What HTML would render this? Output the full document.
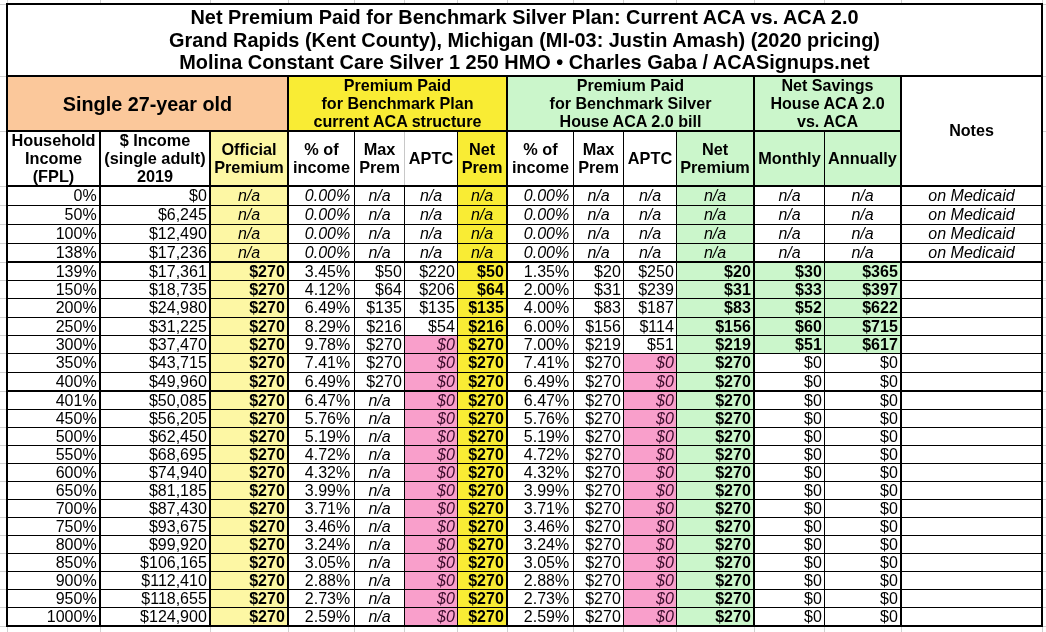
<!DOCTYPE html>
<html><head><meta charset="utf-8"><title>Net Premium Paid - Grand Rapids</title>
<style>
html,body{margin:0;padding:0;background:#fff;}
body{width:1046px;height:632px;position:relative;overflow:hidden;font-family:"Liberation Sans", sans-serif;color:#000;}
body>div{position:absolute;}
.t{white-space:nowrap;overflow:visible;-webkit-font-smoothing:antialiased;will-change:transform;}
</style></head>
<body>
<div style="left:7px;top:0px;width:1px;height:3px;background:#d0d0d0"></div>
<div style="left:7px;top:627px;width:1px;height:5px;background:#d0d0d0"></div>
<div style="left:100px;top:0px;width:1px;height:3px;background:#d0d0d0"></div>
<div style="left:100px;top:627px;width:1px;height:5px;background:#d0d0d0"></div>
<div style="left:210px;top:0px;width:1px;height:3px;background:#d0d0d0"></div>
<div style="left:210px;top:627px;width:1px;height:5px;background:#d0d0d0"></div>
<div style="left:288px;top:0px;width:1px;height:3px;background:#d0d0d0"></div>
<div style="left:288px;top:627px;width:1px;height:5px;background:#d0d0d0"></div>
<div style="left:354px;top:0px;width:1px;height:3px;background:#d0d0d0"></div>
<div style="left:354px;top:627px;width:1px;height:5px;background:#d0d0d0"></div>
<div style="left:404px;top:0px;width:1px;height:3px;background:#d0d0d0"></div>
<div style="left:404px;top:627px;width:1px;height:5px;background:#d0d0d0"></div>
<div style="left:457px;top:0px;width:1px;height:3px;background:#d0d0d0"></div>
<div style="left:457px;top:627px;width:1px;height:5px;background:#d0d0d0"></div>
<div style="left:507px;top:0px;width:1px;height:3px;background:#d0d0d0"></div>
<div style="left:507px;top:627px;width:1px;height:5px;background:#d0d0d0"></div>
<div style="left:573px;top:0px;width:1px;height:3px;background:#d0d0d0"></div>
<div style="left:573px;top:627px;width:1px;height:5px;background:#d0d0d0"></div>
<div style="left:623px;top:0px;width:1px;height:3px;background:#d0d0d0"></div>
<div style="left:623px;top:627px;width:1px;height:5px;background:#d0d0d0"></div>
<div style="left:676px;top:0px;width:1px;height:3px;background:#d0d0d0"></div>
<div style="left:676px;top:627px;width:1px;height:5px;background:#d0d0d0"></div>
<div style="left:754px;top:0px;width:1px;height:3px;background:#d0d0d0"></div>
<div style="left:754px;top:627px;width:1px;height:5px;background:#d0d0d0"></div>
<div style="left:824px;top:0px;width:1px;height:3px;background:#d0d0d0"></div>
<div style="left:824px;top:627px;width:1px;height:5px;background:#d0d0d0"></div>
<div style="left:901px;top:0px;width:1px;height:3px;background:#d0d0d0"></div>
<div style="left:901px;top:627px;width:1px;height:5px;background:#d0d0d0"></div>
<div style="left:1042px;top:0px;width:1px;height:3px;background:#d0d0d0"></div>
<div style="left:1042px;top:627px;width:1px;height:5px;background:#d0d0d0"></div>
<div style="left:0px;top:4px;width:6px;height:1px;background:#d0d0d0"></div>
<div style="left:1043px;top:4px;width:3px;height:1px;background:#d0d0d0"></div>
<div style="left:0px;top:76px;width:6px;height:1px;background:#d0d0d0"></div>
<div style="left:1043px;top:76px;width:3px;height:1px;background:#d0d0d0"></div>
<div style="left:0px;top:131px;width:6px;height:1px;background:#d0d0d0"></div>
<div style="left:1043px;top:131px;width:3px;height:1px;background:#d0d0d0"></div>
<div style="left:0px;top:186px;width:6px;height:1px;background:#d0d0d0"></div>
<div style="left:1043px;top:186px;width:3px;height:1px;background:#d0d0d0"></div>
<div style="left:0px;top:205px;width:6px;height:1px;background:#d0d0d0"></div>
<div style="left:1043px;top:205px;width:3px;height:1px;background:#d0d0d0"></div>
<div style="left:0px;top:224px;width:6px;height:1px;background:#d0d0d0"></div>
<div style="left:1043px;top:224px;width:3px;height:1px;background:#d0d0d0"></div>
<div style="left:0px;top:243px;width:6px;height:1px;background:#d0d0d0"></div>
<div style="left:1043px;top:243px;width:3px;height:1px;background:#d0d0d0"></div>
<div style="left:0px;top:262px;width:6px;height:1px;background:#d0d0d0"></div>
<div style="left:1043px;top:262px;width:3px;height:1px;background:#d0d0d0"></div>
<div style="left:0px;top:280px;width:6px;height:1px;background:#d0d0d0"></div>
<div style="left:1043px;top:280px;width:3px;height:1px;background:#d0d0d0"></div>
<div style="left:0px;top:298px;width:6px;height:1px;background:#d0d0d0"></div>
<div style="left:1043px;top:298px;width:3px;height:1px;background:#d0d0d0"></div>
<div style="left:0px;top:317px;width:6px;height:1px;background:#d0d0d0"></div>
<div style="left:1043px;top:317px;width:3px;height:1px;background:#d0d0d0"></div>
<div style="left:0px;top:335px;width:6px;height:1px;background:#d0d0d0"></div>
<div style="left:1043px;top:335px;width:3px;height:1px;background:#d0d0d0"></div>
<div style="left:0px;top:353px;width:6px;height:1px;background:#d0d0d0"></div>
<div style="left:1043px;top:353px;width:3px;height:1px;background:#d0d0d0"></div>
<div style="left:0px;top:372px;width:6px;height:1px;background:#d0d0d0"></div>
<div style="left:1043px;top:372px;width:3px;height:1px;background:#d0d0d0"></div>
<div style="left:0px;top:391px;width:6px;height:1px;background:#d0d0d0"></div>
<div style="left:1043px;top:391px;width:3px;height:1px;background:#d0d0d0"></div>
<div style="left:0px;top:409px;width:6px;height:1px;background:#d0d0d0"></div>
<div style="left:1043px;top:409px;width:3px;height:1px;background:#d0d0d0"></div>
<div style="left:0px;top:427px;width:6px;height:1px;background:#d0d0d0"></div>
<div style="left:1043px;top:427px;width:3px;height:1px;background:#d0d0d0"></div>
<div style="left:0px;top:445px;width:6px;height:1px;background:#d0d0d0"></div>
<div style="left:1043px;top:445px;width:3px;height:1px;background:#d0d0d0"></div>
<div style="left:0px;top:463px;width:6px;height:1px;background:#d0d0d0"></div>
<div style="left:1043px;top:463px;width:3px;height:1px;background:#d0d0d0"></div>
<div style="left:0px;top:481px;width:6px;height:1px;background:#d0d0d0"></div>
<div style="left:1043px;top:481px;width:3px;height:1px;background:#d0d0d0"></div>
<div style="left:0px;top:499px;width:6px;height:1px;background:#d0d0d0"></div>
<div style="left:1043px;top:499px;width:3px;height:1px;background:#d0d0d0"></div>
<div style="left:0px;top:517px;width:6px;height:1px;background:#d0d0d0"></div>
<div style="left:1043px;top:517px;width:3px;height:1px;background:#d0d0d0"></div>
<div style="left:0px;top:535px;width:6px;height:1px;background:#d0d0d0"></div>
<div style="left:1043px;top:535px;width:3px;height:1px;background:#d0d0d0"></div>
<div style="left:0px;top:553px;width:6px;height:1px;background:#d0d0d0"></div>
<div style="left:1043px;top:553px;width:3px;height:1px;background:#d0d0d0"></div>
<div style="left:0px;top:571px;width:6px;height:1px;background:#d0d0d0"></div>
<div style="left:1043px;top:571px;width:3px;height:1px;background:#d0d0d0"></div>
<div style="left:0px;top:589px;width:6px;height:1px;background:#d0d0d0"></div>
<div style="left:1043px;top:589px;width:3px;height:1px;background:#d0d0d0"></div>
<div style="left:0px;top:607px;width:6px;height:1px;background:#d0d0d0"></div>
<div style="left:1043px;top:607px;width:3px;height:1px;background:#d0d0d0"></div>
<div style="left:0px;top:626px;width:6px;height:1px;background:#d0d0d0"></div>
<div style="left:1043px;top:626px;width:3px;height:1px;background:#d0d0d0"></div>
<div style="left:8px;top:77px;width:279px;height:53px;background:#fbc89b"></div>
<div style="left:289px;top:77px;width:217px;height:53px;background:#f9ec34"></div>
<div style="left:508px;top:77px;width:245px;height:53px;background:#cbf6cb"></div>
<div style="left:755px;top:77px;width:145px;height:53px;background:#cbf6cb"></div>
<div style="left:211px;top:132px;width:76px;height:53px;background:#fdf7a4"></div>
<div style="left:458px;top:132px;width:48px;height:53px;background:#f9ec34"></div>
<div style="left:677px;top:132px;width:76px;height:53px;background:#cbf6cb"></div>
<div style="left:755px;top:132px;width:69px;height:53px;background:#cbf6cb"></div>
<div style="left:825px;top:132px;width:75px;height:53px;background:#cbf6cb"></div>
<div style="left:211px;top:187px;width:76px;height:438px;background:#fdf7a4"></div>
<div style="left:458px;top:187px;width:48px;height:438px;background:#f9ec34"></div>
<div style="left:677px;top:187px;width:76px;height:438px;background:#cbf6cb"></div>
<div style="left:755px;top:263px;width:145px;height:90px;background:#cbf6cb"></div>
<div style="left:405px;top:336px;width:52px;height:289px;background:#f99fcb"></div>
<div style="left:624px;top:354px;width:52px;height:271px;background:#f99fcb"></div>
<div style="left:6px;top:3px;width:1037px;height:2px;background:#000"></div>
<div style="left:6px;top:3px;width:2px;height:624px;background:#000"></div>
<div style="left:1041px;top:3px;width:2px;height:624px;background:#000"></div>
<div style="left:6px;top:625px;width:1037px;height:2px;background:#000"></div>
<div style="left:6px;top:75px;width:1037px;height:2px;background:#000"></div>
<div style="left:6px;top:130px;width:896px;height:2px;background:#000"></div>
<div style="left:6px;top:185px;width:1037px;height:2px;background:#000"></div>
<div style="left:287px;top:77px;width:2px;height:53px;background:#000"></div>
<div style="left:506px;top:77px;width:2px;height:53px;background:#000"></div>
<div style="left:753px;top:77px;width:2px;height:53px;background:#000"></div>
<div style="left:900px;top:77px;width:2px;height:53px;background:#000"></div>
<div style="left:99px;top:132px;width:2px;height:53px;background:#000"></div>
<div style="left:99px;top:187px;width:2px;height:438px;background:#000"></div>
<div style="left:209px;top:132px;width:2px;height:53px;background:#000"></div>
<div style="left:209px;top:187px;width:2px;height:438px;background:#000"></div>
<div style="left:287px;top:132px;width:2px;height:53px;background:#000"></div>
<div style="left:287px;top:187px;width:2px;height:438px;background:#000"></div>
<div style="left:354px;top:132px;width:1px;height:53px;background:#000"></div>
<div style="left:354px;top:187px;width:1px;height:438px;background:#000"></div>
<div style="left:404px;top:132px;width:1px;height:53px;background:#c8c8c8"></div>
<div style="left:404px;top:187px;width:1px;height:438px;background:#000"></div>
<div style="left:457px;top:132px;width:1px;height:53px;background:#000"></div>
<div style="left:457px;top:187px;width:1px;height:438px;background:#000"></div>
<div style="left:506px;top:132px;width:2px;height:53px;background:#000"></div>
<div style="left:506px;top:187px;width:2px;height:438px;background:#000"></div>
<div style="left:573px;top:132px;width:1px;height:53px;background:#000"></div>
<div style="left:573px;top:187px;width:1px;height:438px;background:#000"></div>
<div style="left:623px;top:132px;width:1px;height:53px;background:#000"></div>
<div style="left:623px;top:187px;width:1px;height:438px;background:#000"></div>
<div style="left:676px;top:132px;width:1px;height:53px;background:#000"></div>
<div style="left:676px;top:187px;width:1px;height:438px;background:#000"></div>
<div style="left:753px;top:132px;width:2px;height:53px;background:#000"></div>
<div style="left:753px;top:187px;width:2px;height:438px;background:#000"></div>
<div style="left:824px;top:132px;width:1px;height:53px;background:#000"></div>
<div style="left:824px;top:187px;width:1px;height:438px;background:#000"></div>
<div style="left:900px;top:132px;width:2px;height:53px;background:#000"></div>
<div style="left:900px;top:187px;width:2px;height:438px;background:#000"></div>
<div style="left:6px;top:205px;width:1037px;height:1px;background:#000"></div>
<div style="left:6px;top:224px;width:1037px;height:1px;background:#000"></div>
<div style="left:6px;top:243px;width:1037px;height:1px;background:#000"></div>
<div style="left:6px;top:261px;width:1037px;height:2px;background:#000"></div>
<div style="left:6px;top:280px;width:1037px;height:1px;background:#000"></div>
<div style="left:6px;top:298px;width:1037px;height:1px;background:#000"></div>
<div style="left:6px;top:317px;width:1037px;height:1px;background:#000"></div>
<div style="left:6px;top:335px;width:1037px;height:1px;background:#000"></div>
<div style="left:6px;top:353px;width:1037px;height:1px;background:#000"></div>
<div style="left:6px;top:372px;width:1037px;height:1px;background:#000"></div>
<div style="left:6px;top:390px;width:1037px;height:2px;background:#000"></div>
<div style="left:6px;top:409px;width:1037px;height:1px;background:#000"></div>
<div style="left:6px;top:427px;width:1037px;height:1px;background:#000"></div>
<div style="left:6px;top:445px;width:1037px;height:1px;background:#000"></div>
<div style="left:6px;top:463px;width:1037px;height:1px;background:#000"></div>
<div style="left:6px;top:481px;width:1037px;height:1px;background:#000"></div>
<div style="left:6px;top:499px;width:1037px;height:1px;background:#000"></div>
<div style="left:6px;top:517px;width:1037px;height:1px;background:#000"></div>
<div style="left:6px;top:535px;width:1037px;height:1px;background:#000"></div>
<div style="left:6px;top:553px;width:1037px;height:1px;background:#000"></div>
<div style="left:6px;top:571px;width:1037px;height:1px;background:#000"></div>
<div style="left:6px;top:589px;width:1037px;height:1px;background:#000"></div>
<div style="left:6px;top:607px;width:1037px;height:1px;background:#000"></div>
<div class="t" style="left:6px;top:5.5px;width:1037px;font-size:19.9px;line-height:22.9px;font-weight:bold;text-align:center">Net Premium Paid for Benchmark Silver Plan: Current ACA vs. ACA 2.0</div>
<div class="t" style="left:6px;top:29.0px;width:1037px;font-size:19.9px;line-height:22.9px;font-weight:bold;text-align:center">Grand Rapids (Kent County), Michigan (MI-03: Justin Amash) (2020 pricing)</div>
<div class="t" style="left:6px;top:51.4px;width:1037px;font-size:19.9px;line-height:22.9px;font-weight:bold;text-align:center">Molina Constant Care Silver 1 250 HMO &bull; Charles Gaba / ACASignups.net</div>
<div class="t" style="left:8px;top:77.6px;width:279px;height:53.0px;font-size:19.8px;text-align:center;color:#000;line-height:53.0px;font-weight:bold">Single 27-year old</div>
<div class="t" style="left:289px;top:76.7px;width:217px;font-size:16.1px;line-height:17.9px;font-weight:bold;text-align:center">Premium Paid<br>for Benchmark Plan<br>current ACA structure</div>
<div class="t" style="left:508px;top:76.7px;width:245px;font-size:16.1px;line-height:17.9px;font-weight:bold;text-align:center">Premium Paid<br>for Benchmark Silver<br>House ACA 2.0 bill</div>
<div class="t" style="left:755px;top:76.7px;width:145px;font-size:16.1px;line-height:17.9px;font-weight:bold;text-align:center">Net Savings<br>House ACA 2.0<br>vs. ACA</div>
<div class="t" style="left:902px;top:122.0px;width:139px;font-size:16.1px;line-height:17.9px;font-weight:bold;text-align:center">Notes</div>
<div class="t" style="left:8px;top:132.3px;width:91px;font-size:16.3px;line-height:17.9px;font-weight:bold;text-align:center">Household<br>Income<br>(FPL)</div>
<div class="t" style="left:101px;top:132.3px;width:108px;font-size:16.3px;line-height:17.9px;font-weight:bold;text-align:center">$ Income<br>(single adult)<br>2019</div>
<div class="t" style="left:211px;top:141.3px;width:76px;font-size:16.3px;line-height:17.9px;font-weight:bold;text-align:center">Official<br>Premium</div>
<div class="t" style="left:289px;top:141.3px;width:65px;font-size:16.3px;line-height:17.9px;font-weight:bold;text-align:center">% of<br>income</div>
<div class="t" style="left:355px;top:141.3px;width:49px;font-size:16.3px;line-height:17.9px;font-weight:bold;text-align:center">Max<br>Prem</div>
<div class="t" style="left:405px;top:150.2px;width:52px;font-size:16.3px;line-height:17.9px;font-weight:bold;text-align:center">APTC</div>
<div class="t" style="left:458px;top:141.3px;width:48px;font-size:16.3px;line-height:17.9px;font-weight:bold;text-align:center">Net<br>Prem</div>
<div class="t" style="left:508px;top:141.3px;width:65px;font-size:16.3px;line-height:17.9px;font-weight:bold;text-align:center">% of<br>income</div>
<div class="t" style="left:574px;top:141.3px;width:49px;font-size:16.3px;line-height:17.9px;font-weight:bold;text-align:center">Max<br>Prem</div>
<div class="t" style="left:624px;top:150.2px;width:52px;font-size:16.3px;line-height:17.9px;font-weight:bold;text-align:center">APTC</div>
<div class="t" style="left:677px;top:141.3px;width:76px;font-size:16.3px;line-height:17.9px;font-weight:bold;text-align:center">Net<br>Premium</div>
<div class="t" style="left:755px;top:150.2px;width:69px;font-size:16.3px;line-height:17.9px;font-weight:bold;text-align:center">Monthly</div>
<div class="t" style="left:825px;top:150.2px;width:75px;font-size:16.3px;line-height:17.9px;font-weight:bold;text-align:center">Annually</div>
<div class="t" style="left:8px;top:187px;width:91px;height:18px;font-size:16px;text-align:right;color:#000;line-height:18px;padding-right:2.4px;box-sizing:border-box">0%</div>
<div class="t" style="left:101px;top:187px;width:108px;height:18px;font-size:16px;text-align:right;color:#000;line-height:18px;padding-right:2.2px;box-sizing:border-box">$0</div>
<div class="t" style="left:211px;top:187px;width:76px;height:18px;font-size:16px;text-align:center;color:#000;line-height:18px;font-style:italic">n/a</div>
<div class="t" style="left:289px;top:187px;width:65px;height:18px;font-size:16px;text-align:right;color:#000;line-height:18px;font-style:italic;padding-right:3.8px;box-sizing:border-box">0.00%</div>
<div class="t" style="left:355px;top:187px;width:49px;height:18px;font-size:16px;text-align:center;color:#000;line-height:18px;font-style:italic">n/a</div>
<div class="t" style="left:405px;top:187px;width:52px;height:18px;font-size:16px;text-align:center;color:#000;line-height:18px;font-style:italic">n/a</div>
<div class="t" style="left:458px;top:187px;width:48px;height:18px;font-size:16px;text-align:center;color:#000;line-height:18px;font-style:italic">n/a</div>
<div class="t" style="left:508px;top:187px;width:65px;height:18px;font-size:16px;text-align:right;color:#000;line-height:18px;font-style:italic;padding-right:3.8px;box-sizing:border-box">0.00%</div>
<div class="t" style="left:574px;top:187px;width:49px;height:18px;font-size:16px;text-align:center;color:#000;line-height:18px;font-style:italic">n/a</div>
<div class="t" style="left:624px;top:187px;width:52px;height:18px;font-size:16px;text-align:center;color:#000;line-height:18px;font-style:italic">n/a</div>
<div class="t" style="left:677px;top:187px;width:76px;height:18px;font-size:16px;text-align:center;color:#000;line-height:18px;font-style:italic">n/a</div>
<div class="t" style="left:755px;top:187px;width:69px;height:18px;font-size:16px;text-align:center;color:#000;line-height:18px;font-style:italic">n/a</div>
<div class="t" style="left:825px;top:187px;width:75px;height:18px;font-size:16px;text-align:center;color:#000;line-height:18px;font-style:italic">n/a</div>
<div class="t" style="left:902px;top:187px;width:139px;height:18px;font-size:16px;text-align:center;color:#000;line-height:18px;font-style:italic">on Medicaid</div>
<div class="t" style="left:8px;top:206px;width:91px;height:18px;font-size:16px;text-align:right;color:#000;line-height:18px;padding-right:2.4px;box-sizing:border-box">50%</div>
<div class="t" style="left:101px;top:206px;width:108px;height:18px;font-size:16px;text-align:right;color:#000;line-height:18px;padding-right:2.2px;box-sizing:border-box">$6,245</div>
<div class="t" style="left:211px;top:206px;width:76px;height:18px;font-size:16px;text-align:center;color:#000;line-height:18px;font-style:italic">n/a</div>
<div class="t" style="left:289px;top:206px;width:65px;height:18px;font-size:16px;text-align:right;color:#000;line-height:18px;font-style:italic;padding-right:3.8px;box-sizing:border-box">0.00%</div>
<div class="t" style="left:355px;top:206px;width:49px;height:18px;font-size:16px;text-align:center;color:#000;line-height:18px;font-style:italic">n/a</div>
<div class="t" style="left:405px;top:206px;width:52px;height:18px;font-size:16px;text-align:center;color:#000;line-height:18px;font-style:italic">n/a</div>
<div class="t" style="left:458px;top:206px;width:48px;height:18px;font-size:16px;text-align:center;color:#000;line-height:18px;font-style:italic">n/a</div>
<div class="t" style="left:508px;top:206px;width:65px;height:18px;font-size:16px;text-align:right;color:#000;line-height:18px;font-style:italic;padding-right:3.8px;box-sizing:border-box">0.00%</div>
<div class="t" style="left:574px;top:206px;width:49px;height:18px;font-size:16px;text-align:center;color:#000;line-height:18px;font-style:italic">n/a</div>
<div class="t" style="left:624px;top:206px;width:52px;height:18px;font-size:16px;text-align:center;color:#000;line-height:18px;font-style:italic">n/a</div>
<div class="t" style="left:677px;top:206px;width:76px;height:18px;font-size:16px;text-align:center;color:#000;line-height:18px;font-style:italic">n/a</div>
<div class="t" style="left:755px;top:206px;width:69px;height:18px;font-size:16px;text-align:center;color:#000;line-height:18px;font-style:italic">n/a</div>
<div class="t" style="left:825px;top:206px;width:75px;height:18px;font-size:16px;text-align:center;color:#000;line-height:18px;font-style:italic">n/a</div>
<div class="t" style="left:902px;top:206px;width:139px;height:18px;font-size:16px;text-align:center;color:#000;line-height:18px;font-style:italic">on Medicaid</div>
<div class="t" style="left:8px;top:225px;width:91px;height:18px;font-size:16px;text-align:right;color:#000;line-height:18px;padding-right:2.4px;box-sizing:border-box">100%</div>
<div class="t" style="left:101px;top:225px;width:108px;height:18px;font-size:16px;text-align:right;color:#000;line-height:18px;padding-right:2.2px;box-sizing:border-box">$12,490</div>
<div class="t" style="left:211px;top:225px;width:76px;height:18px;font-size:16px;text-align:center;color:#000;line-height:18px;font-style:italic">n/a</div>
<div class="t" style="left:289px;top:225px;width:65px;height:18px;font-size:16px;text-align:right;color:#000;line-height:18px;font-style:italic;padding-right:3.8px;box-sizing:border-box">0.00%</div>
<div class="t" style="left:355px;top:225px;width:49px;height:18px;font-size:16px;text-align:center;color:#000;line-height:18px;font-style:italic">n/a</div>
<div class="t" style="left:405px;top:225px;width:52px;height:18px;font-size:16px;text-align:center;color:#000;line-height:18px;font-style:italic">n/a</div>
<div class="t" style="left:458px;top:225px;width:48px;height:18px;font-size:16px;text-align:center;color:#000;line-height:18px;font-style:italic">n/a</div>
<div class="t" style="left:508px;top:225px;width:65px;height:18px;font-size:16px;text-align:right;color:#000;line-height:18px;font-style:italic;padding-right:3.8px;box-sizing:border-box">0.00%</div>
<div class="t" style="left:574px;top:225px;width:49px;height:18px;font-size:16px;text-align:center;color:#000;line-height:18px;font-style:italic">n/a</div>
<div class="t" style="left:624px;top:225px;width:52px;height:18px;font-size:16px;text-align:center;color:#000;line-height:18px;font-style:italic">n/a</div>
<div class="t" style="left:677px;top:225px;width:76px;height:18px;font-size:16px;text-align:center;color:#000;line-height:18px;font-style:italic">n/a</div>
<div class="t" style="left:755px;top:225px;width:69px;height:18px;font-size:16px;text-align:center;color:#000;line-height:18px;font-style:italic">n/a</div>
<div class="t" style="left:825px;top:225px;width:75px;height:18px;font-size:16px;text-align:center;color:#000;line-height:18px;font-style:italic">n/a</div>
<div class="t" style="left:902px;top:225px;width:139px;height:18px;font-size:16px;text-align:center;color:#000;line-height:18px;font-style:italic">on Medicaid</div>
<div class="t" style="left:8px;top:244px;width:91px;height:17px;font-size:16px;text-align:right;color:#000;line-height:17px;padding-right:2.4px;box-sizing:border-box">138%</div>
<div class="t" style="left:101px;top:244px;width:108px;height:17px;font-size:16px;text-align:right;color:#000;line-height:17px;padding-right:2.2px;box-sizing:border-box">$17,236</div>
<div class="t" style="left:211px;top:244px;width:76px;height:17px;font-size:16px;text-align:center;color:#000;line-height:17px;font-style:italic">n/a</div>
<div class="t" style="left:289px;top:244px;width:65px;height:17px;font-size:16px;text-align:right;color:#000;line-height:17px;font-style:italic;padding-right:3.8px;box-sizing:border-box">0.00%</div>
<div class="t" style="left:355px;top:244px;width:49px;height:17px;font-size:16px;text-align:center;color:#000;line-height:17px;font-style:italic">n/a</div>
<div class="t" style="left:405px;top:244px;width:52px;height:17px;font-size:16px;text-align:center;color:#000;line-height:17px;font-style:italic">n/a</div>
<div class="t" style="left:458px;top:244px;width:48px;height:17px;font-size:16px;text-align:center;color:#000;line-height:17px;font-style:italic">n/a</div>
<div class="t" style="left:508px;top:244px;width:65px;height:17px;font-size:16px;text-align:right;color:#000;line-height:17px;font-style:italic;padding-right:3.8px;box-sizing:border-box">0.00%</div>
<div class="t" style="left:574px;top:244px;width:49px;height:17px;font-size:16px;text-align:center;color:#000;line-height:17px;font-style:italic">n/a</div>
<div class="t" style="left:624px;top:244px;width:52px;height:17px;font-size:16px;text-align:center;color:#000;line-height:17px;font-style:italic">n/a</div>
<div class="t" style="left:677px;top:244px;width:76px;height:17px;font-size:16px;text-align:center;color:#000;line-height:17px;font-style:italic">n/a</div>
<div class="t" style="left:755px;top:244px;width:69px;height:17px;font-size:16px;text-align:center;color:#000;line-height:17px;font-style:italic">n/a</div>
<div class="t" style="left:825px;top:244px;width:75px;height:17px;font-size:16px;text-align:center;color:#000;line-height:17px;font-style:italic">n/a</div>
<div class="t" style="left:902px;top:244px;width:139px;height:17px;font-size:16px;text-align:center;color:#000;line-height:17px;font-style:italic">on Medicaid</div>
<div class="t" style="left:8px;top:263px;width:91px;height:17px;font-size:16px;text-align:right;color:#000;line-height:17px;padding-right:2.4px;box-sizing:border-box">139%</div>
<div class="t" style="left:101px;top:263px;width:108px;height:17px;font-size:16px;text-align:right;color:#000;line-height:17px;padding-right:2.2px;box-sizing:border-box">$17,361</div>
<div class="t" style="left:211px;top:263px;width:76px;height:17px;font-size:16px;text-align:right;color:#000;line-height:17px;font-weight:bold;padding-right:2.2px;box-sizing:border-box">$270</div>
<div class="t" style="left:289px;top:263px;width:65px;height:17px;font-size:16px;text-align:right;color:#000;line-height:17px;padding-right:3.8px;box-sizing:border-box">3.45%</div>
<div class="t" style="left:355px;top:263px;width:49px;height:17px;font-size:16px;text-align:right;color:#000;line-height:17px;padding-right:2.2px;box-sizing:border-box">$50</div>
<div class="t" style="left:405px;top:263px;width:52px;height:17px;font-size:16px;text-align:right;color:#000;line-height:17px;padding-right:2.2px;box-sizing:border-box">$220</div>
<div class="t" style="left:458px;top:263px;width:48px;height:17px;font-size:16px;text-align:right;color:#000;line-height:17px;font-weight:bold;padding-right:2.2px;box-sizing:border-box">$50</div>
<div class="t" style="left:508px;top:263px;width:65px;height:17px;font-size:16px;text-align:right;color:#000;line-height:17px;padding-right:3.8px;box-sizing:border-box">1.35%</div>
<div class="t" style="left:574px;top:263px;width:49px;height:17px;font-size:16px;text-align:right;color:#000;line-height:17px;padding-right:2.2px;box-sizing:border-box">$20</div>
<div class="t" style="left:624px;top:263px;width:52px;height:17px;font-size:16px;text-align:right;color:#000;line-height:17px;padding-right:2.2px;box-sizing:border-box">$250</div>
<div class="t" style="left:677px;top:263px;width:76px;height:17px;font-size:16px;text-align:right;color:#000;line-height:17px;font-weight:bold;padding-right:2.2px;box-sizing:border-box">$20</div>
<div class="t" style="left:755px;top:263px;width:69px;height:17px;font-size:16px;text-align:right;color:#000;line-height:17px;font-weight:bold;padding-right:2.2px;box-sizing:border-box">$30</div>
<div class="t" style="left:825px;top:263px;width:75px;height:17px;font-size:16px;text-align:right;color:#000;line-height:17px;font-weight:bold;padding-right:2.2px;box-sizing:border-box">$365</div>
<div class="t" style="left:8px;top:281px;width:91px;height:17px;font-size:16px;text-align:right;color:#000;line-height:17px;padding-right:2.4px;box-sizing:border-box">150%</div>
<div class="t" style="left:101px;top:281px;width:108px;height:17px;font-size:16px;text-align:right;color:#000;line-height:17px;padding-right:2.2px;box-sizing:border-box">$18,735</div>
<div class="t" style="left:211px;top:281px;width:76px;height:17px;font-size:16px;text-align:right;color:#000;line-height:17px;font-weight:bold;padding-right:2.2px;box-sizing:border-box">$270</div>
<div class="t" style="left:289px;top:281px;width:65px;height:17px;font-size:16px;text-align:right;color:#000;line-height:17px;padding-right:3.8px;box-sizing:border-box">4.12%</div>
<div class="t" style="left:355px;top:281px;width:49px;height:17px;font-size:16px;text-align:right;color:#000;line-height:17px;padding-right:2.2px;box-sizing:border-box">$64</div>
<div class="t" style="left:405px;top:281px;width:52px;height:17px;font-size:16px;text-align:right;color:#000;line-height:17px;padding-right:2.2px;box-sizing:border-box">$206</div>
<div class="t" style="left:458px;top:281px;width:48px;height:17px;font-size:16px;text-align:right;color:#000;line-height:17px;font-weight:bold;padding-right:2.2px;box-sizing:border-box">$64</div>
<div class="t" style="left:508px;top:281px;width:65px;height:17px;font-size:16px;text-align:right;color:#000;line-height:17px;padding-right:3.8px;box-sizing:border-box">2.00%</div>
<div class="t" style="left:574px;top:281px;width:49px;height:17px;font-size:16px;text-align:right;color:#000;line-height:17px;padding-right:2.2px;box-sizing:border-box">$31</div>
<div class="t" style="left:624px;top:281px;width:52px;height:17px;font-size:16px;text-align:right;color:#000;line-height:17px;padding-right:2.2px;box-sizing:border-box">$239</div>
<div class="t" style="left:677px;top:281px;width:76px;height:17px;font-size:16px;text-align:right;color:#000;line-height:17px;font-weight:bold;padding-right:2.2px;box-sizing:border-box">$31</div>
<div class="t" style="left:755px;top:281px;width:69px;height:17px;font-size:16px;text-align:right;color:#000;line-height:17px;font-weight:bold;padding-right:2.2px;box-sizing:border-box">$33</div>
<div class="t" style="left:825px;top:281px;width:75px;height:17px;font-size:16px;text-align:right;color:#000;line-height:17px;font-weight:bold;padding-right:2.2px;box-sizing:border-box">$397</div>
<div class="t" style="left:8px;top:299px;width:91px;height:18px;font-size:16px;text-align:right;color:#000;line-height:18px;padding-right:2.4px;box-sizing:border-box">200%</div>
<div class="t" style="left:101px;top:299px;width:108px;height:18px;font-size:16px;text-align:right;color:#000;line-height:18px;padding-right:2.2px;box-sizing:border-box">$24,980</div>
<div class="t" style="left:211px;top:299px;width:76px;height:18px;font-size:16px;text-align:right;color:#000;line-height:18px;font-weight:bold;padding-right:2.2px;box-sizing:border-box">$270</div>
<div class="t" style="left:289px;top:299px;width:65px;height:18px;font-size:16px;text-align:right;color:#000;line-height:18px;padding-right:3.8px;box-sizing:border-box">6.49%</div>
<div class="t" style="left:355px;top:299px;width:49px;height:18px;font-size:16px;text-align:right;color:#000;line-height:18px;padding-right:2.2px;box-sizing:border-box">$135</div>
<div class="t" style="left:405px;top:299px;width:52px;height:18px;font-size:16px;text-align:right;color:#000;line-height:18px;padding-right:2.2px;box-sizing:border-box">$135</div>
<div class="t" style="left:458px;top:299px;width:48px;height:18px;font-size:16px;text-align:right;color:#000;line-height:18px;font-weight:bold;padding-right:2.2px;box-sizing:border-box">$135</div>
<div class="t" style="left:508px;top:299px;width:65px;height:18px;font-size:16px;text-align:right;color:#000;line-height:18px;padding-right:3.8px;box-sizing:border-box">4.00%</div>
<div class="t" style="left:574px;top:299px;width:49px;height:18px;font-size:16px;text-align:right;color:#000;line-height:18px;padding-right:2.2px;box-sizing:border-box">$83</div>
<div class="t" style="left:624px;top:299px;width:52px;height:18px;font-size:16px;text-align:right;color:#000;line-height:18px;padding-right:2.2px;box-sizing:border-box">$187</div>
<div class="t" style="left:677px;top:299px;width:76px;height:18px;font-size:16px;text-align:right;color:#000;line-height:18px;font-weight:bold;padding-right:2.2px;box-sizing:border-box">$83</div>
<div class="t" style="left:755px;top:299px;width:69px;height:18px;font-size:16px;text-align:right;color:#000;line-height:18px;font-weight:bold;padding-right:2.2px;box-sizing:border-box">$52</div>
<div class="t" style="left:825px;top:299px;width:75px;height:18px;font-size:16px;text-align:right;color:#000;line-height:18px;font-weight:bold;padding-right:2.2px;box-sizing:border-box">$622</div>
<div class="t" style="left:8px;top:318px;width:91px;height:17px;font-size:16px;text-align:right;color:#000;line-height:17px;padding-right:2.4px;box-sizing:border-box">250%</div>
<div class="t" style="left:101px;top:318px;width:108px;height:17px;font-size:16px;text-align:right;color:#000;line-height:17px;padding-right:2.2px;box-sizing:border-box">$31,225</div>
<div class="t" style="left:211px;top:318px;width:76px;height:17px;font-size:16px;text-align:right;color:#000;line-height:17px;font-weight:bold;padding-right:2.2px;box-sizing:border-box">$270</div>
<div class="t" style="left:289px;top:318px;width:65px;height:17px;font-size:16px;text-align:right;color:#000;line-height:17px;padding-right:3.8px;box-sizing:border-box">8.29%</div>
<div class="t" style="left:355px;top:318px;width:49px;height:17px;font-size:16px;text-align:right;color:#000;line-height:17px;padding-right:2.2px;box-sizing:border-box">$216</div>
<div class="t" style="left:405px;top:318px;width:52px;height:17px;font-size:16px;text-align:right;color:#000;line-height:17px;padding-right:2.2px;box-sizing:border-box">$54</div>
<div class="t" style="left:458px;top:318px;width:48px;height:17px;font-size:16px;text-align:right;color:#000;line-height:17px;font-weight:bold;padding-right:2.2px;box-sizing:border-box">$216</div>
<div class="t" style="left:508px;top:318px;width:65px;height:17px;font-size:16px;text-align:right;color:#000;line-height:17px;padding-right:3.8px;box-sizing:border-box">6.00%</div>
<div class="t" style="left:574px;top:318px;width:49px;height:17px;font-size:16px;text-align:right;color:#000;line-height:17px;padding-right:2.2px;box-sizing:border-box">$156</div>
<div class="t" style="left:624px;top:318px;width:52px;height:17px;font-size:16px;text-align:right;color:#000;line-height:17px;padding-right:2.2px;box-sizing:border-box">$114</div>
<div class="t" style="left:677px;top:318px;width:76px;height:17px;font-size:16px;text-align:right;color:#000;line-height:17px;font-weight:bold;padding-right:2.2px;box-sizing:border-box">$156</div>
<div class="t" style="left:755px;top:318px;width:69px;height:17px;font-size:16px;text-align:right;color:#000;line-height:17px;font-weight:bold;padding-right:2.2px;box-sizing:border-box">$60</div>
<div class="t" style="left:825px;top:318px;width:75px;height:17px;font-size:16px;text-align:right;color:#000;line-height:17px;font-weight:bold;padding-right:2.2px;box-sizing:border-box">$715</div>
<div class="t" style="left:8px;top:336px;width:91px;height:17px;font-size:16px;text-align:right;color:#000;line-height:17px;padding-right:2.4px;box-sizing:border-box">300%</div>
<div class="t" style="left:101px;top:336px;width:108px;height:17px;font-size:16px;text-align:right;color:#000;line-height:17px;padding-right:2.2px;box-sizing:border-box">$37,470</div>
<div class="t" style="left:211px;top:336px;width:76px;height:17px;font-size:16px;text-align:right;color:#000;line-height:17px;font-weight:bold;padding-right:2.2px;box-sizing:border-box">$270</div>
<div class="t" style="left:289px;top:336px;width:65px;height:17px;font-size:16px;text-align:right;color:#000;line-height:17px;padding-right:3.8px;box-sizing:border-box">9.78%</div>
<div class="t" style="left:355px;top:336px;width:49px;height:17px;font-size:16px;text-align:right;color:#000;line-height:17px;padding-right:2.2px;box-sizing:border-box">$270</div>
<div class="t" style="left:405px;top:336px;width:52px;height:17px;font-size:16px;text-align:right;color:#3a0a2a;line-height:17px;font-style:italic;padding-right:2.2px;box-sizing:border-box">$0</div>
<div class="t" style="left:458px;top:336px;width:48px;height:17px;font-size:16px;text-align:right;color:#000;line-height:17px;font-weight:bold;padding-right:2.2px;box-sizing:border-box">$270</div>
<div class="t" style="left:508px;top:336px;width:65px;height:17px;font-size:16px;text-align:right;color:#000;line-height:17px;padding-right:3.8px;box-sizing:border-box">7.00%</div>
<div class="t" style="left:574px;top:336px;width:49px;height:17px;font-size:16px;text-align:right;color:#000;line-height:17px;padding-right:2.2px;box-sizing:border-box">$219</div>
<div class="t" style="left:624px;top:336px;width:52px;height:17px;font-size:16px;text-align:right;color:#000;line-height:17px;padding-right:2.2px;box-sizing:border-box">$51</div>
<div class="t" style="left:677px;top:336px;width:76px;height:17px;font-size:16px;text-align:right;color:#000;line-height:17px;font-weight:bold;padding-right:2.2px;box-sizing:border-box">$219</div>
<div class="t" style="left:755px;top:336px;width:69px;height:17px;font-size:16px;text-align:right;color:#000;line-height:17px;font-weight:bold;padding-right:2.2px;box-sizing:border-box">$51</div>
<div class="t" style="left:825px;top:336px;width:75px;height:17px;font-size:16px;text-align:right;color:#000;line-height:17px;font-weight:bold;padding-right:2.2px;box-sizing:border-box">$617</div>
<div class="t" style="left:8px;top:354px;width:91px;height:18px;font-size:16px;text-align:right;color:#000;line-height:18px;padding-right:2.4px;box-sizing:border-box">350%</div>
<div class="t" style="left:101px;top:354px;width:108px;height:18px;font-size:16px;text-align:right;color:#000;line-height:18px;padding-right:2.2px;box-sizing:border-box">$43,715</div>
<div class="t" style="left:211px;top:354px;width:76px;height:18px;font-size:16px;text-align:right;color:#000;line-height:18px;font-weight:bold;padding-right:2.2px;box-sizing:border-box">$270</div>
<div class="t" style="left:289px;top:354px;width:65px;height:18px;font-size:16px;text-align:right;color:#000;line-height:18px;padding-right:3.8px;box-sizing:border-box">7.41%</div>
<div class="t" style="left:355px;top:354px;width:49px;height:18px;font-size:16px;text-align:right;color:#000;line-height:18px;padding-right:2.2px;box-sizing:border-box">$270</div>
<div class="t" style="left:405px;top:354px;width:52px;height:18px;font-size:16px;text-align:right;color:#3a0a2a;line-height:18px;font-style:italic;padding-right:2.2px;box-sizing:border-box">$0</div>
<div class="t" style="left:458px;top:354px;width:48px;height:18px;font-size:16px;text-align:right;color:#000;line-height:18px;font-weight:bold;padding-right:2.2px;box-sizing:border-box">$270</div>
<div class="t" style="left:508px;top:354px;width:65px;height:18px;font-size:16px;text-align:right;color:#000;line-height:18px;padding-right:3.8px;box-sizing:border-box">7.41%</div>
<div class="t" style="left:574px;top:354px;width:49px;height:18px;font-size:16px;text-align:right;color:#000;line-height:18px;padding-right:2.2px;box-sizing:border-box">$270</div>
<div class="t" style="left:624px;top:354px;width:52px;height:18px;font-size:16px;text-align:right;color:#3a0a2a;line-height:18px;font-style:italic;padding-right:2.2px;box-sizing:border-box">$0</div>
<div class="t" style="left:677px;top:354px;width:76px;height:18px;font-size:16px;text-align:right;color:#000;line-height:18px;font-weight:bold;padding-right:2.2px;box-sizing:border-box">$270</div>
<div class="t" style="left:755px;top:354px;width:69px;height:18px;font-size:16px;text-align:right;color:#000;line-height:18px;padding-right:2.2px;box-sizing:border-box">$0</div>
<div class="t" style="left:825px;top:354px;width:75px;height:18px;font-size:16px;text-align:right;color:#000;line-height:18px;padding-right:2.2px;box-sizing:border-box">$0</div>
<div class="t" style="left:8px;top:373px;width:91px;height:17px;font-size:16px;text-align:right;color:#000;line-height:17px;padding-right:2.4px;box-sizing:border-box">400%</div>
<div class="t" style="left:101px;top:373px;width:108px;height:17px;font-size:16px;text-align:right;color:#000;line-height:17px;padding-right:2.2px;box-sizing:border-box">$49,960</div>
<div class="t" style="left:211px;top:373px;width:76px;height:17px;font-size:16px;text-align:right;color:#000;line-height:17px;font-weight:bold;padding-right:2.2px;box-sizing:border-box">$270</div>
<div class="t" style="left:289px;top:373px;width:65px;height:17px;font-size:16px;text-align:right;color:#000;line-height:17px;padding-right:3.8px;box-sizing:border-box">6.49%</div>
<div class="t" style="left:355px;top:373px;width:49px;height:17px;font-size:16px;text-align:right;color:#000;line-height:17px;padding-right:2.2px;box-sizing:border-box">$270</div>
<div class="t" style="left:405px;top:373px;width:52px;height:17px;font-size:16px;text-align:right;color:#3a0a2a;line-height:17px;font-style:italic;padding-right:2.2px;box-sizing:border-box">$0</div>
<div class="t" style="left:458px;top:373px;width:48px;height:17px;font-size:16px;text-align:right;color:#000;line-height:17px;font-weight:bold;padding-right:2.2px;box-sizing:border-box">$270</div>
<div class="t" style="left:508px;top:373px;width:65px;height:17px;font-size:16px;text-align:right;color:#000;line-height:17px;padding-right:3.8px;box-sizing:border-box">6.49%</div>
<div class="t" style="left:574px;top:373px;width:49px;height:17px;font-size:16px;text-align:right;color:#000;line-height:17px;padding-right:2.2px;box-sizing:border-box">$270</div>
<div class="t" style="left:624px;top:373px;width:52px;height:17px;font-size:16px;text-align:right;color:#3a0a2a;line-height:17px;font-style:italic;padding-right:2.2px;box-sizing:border-box">$0</div>
<div class="t" style="left:677px;top:373px;width:76px;height:17px;font-size:16px;text-align:right;color:#000;line-height:17px;font-weight:bold;padding-right:2.2px;box-sizing:border-box">$270</div>
<div class="t" style="left:755px;top:373px;width:69px;height:17px;font-size:16px;text-align:right;color:#000;line-height:17px;padding-right:2.2px;box-sizing:border-box">$0</div>
<div class="t" style="left:825px;top:373px;width:75px;height:17px;font-size:16px;text-align:right;color:#000;line-height:17px;padding-right:2.2px;box-sizing:border-box">$0</div>
<div class="t" style="left:8px;top:392px;width:91px;height:17px;font-size:16px;text-align:right;color:#000;line-height:17px;padding-right:2.4px;box-sizing:border-box">401%</div>
<div class="t" style="left:101px;top:392px;width:108px;height:17px;font-size:16px;text-align:right;color:#000;line-height:17px;padding-right:2.2px;box-sizing:border-box">$50,085</div>
<div class="t" style="left:211px;top:392px;width:76px;height:17px;font-size:16px;text-align:right;color:#000;line-height:17px;font-weight:bold;padding-right:2.2px;box-sizing:border-box">$270</div>
<div class="t" style="left:289px;top:392px;width:65px;height:17px;font-size:16px;text-align:right;color:#000;line-height:17px;padding-right:3.8px;box-sizing:border-box">6.47%</div>
<div class="t" style="left:355px;top:392px;width:49px;height:17px;font-size:16px;text-align:center;color:#000;line-height:17px;font-style:italic">n/a</div>
<div class="t" style="left:405px;top:392px;width:52px;height:17px;font-size:16px;text-align:right;color:#3a0a2a;line-height:17px;font-style:italic;padding-right:2.2px;box-sizing:border-box">$0</div>
<div class="t" style="left:458px;top:392px;width:48px;height:17px;font-size:16px;text-align:right;color:#000;line-height:17px;font-weight:bold;padding-right:2.2px;box-sizing:border-box">$270</div>
<div class="t" style="left:508px;top:392px;width:65px;height:17px;font-size:16px;text-align:right;color:#000;line-height:17px;padding-right:3.8px;box-sizing:border-box">6.47%</div>
<div class="t" style="left:574px;top:392px;width:49px;height:17px;font-size:16px;text-align:right;color:#000;line-height:17px;padding-right:2.2px;box-sizing:border-box">$270</div>
<div class="t" style="left:624px;top:392px;width:52px;height:17px;font-size:16px;text-align:right;color:#3a0a2a;line-height:17px;font-style:italic;padding-right:2.2px;box-sizing:border-box">$0</div>
<div class="t" style="left:677px;top:392px;width:76px;height:17px;font-size:16px;text-align:right;color:#000;line-height:17px;font-weight:bold;padding-right:2.2px;box-sizing:border-box">$270</div>
<div class="t" style="left:755px;top:392px;width:69px;height:17px;font-size:16px;text-align:right;color:#000;line-height:17px;padding-right:2.2px;box-sizing:border-box">$0</div>
<div class="t" style="left:825px;top:392px;width:75px;height:17px;font-size:16px;text-align:right;color:#000;line-height:17px;padding-right:2.2px;box-sizing:border-box">$0</div>
<div class="t" style="left:8px;top:410px;width:91px;height:17px;font-size:16px;text-align:right;color:#000;line-height:17px;padding-right:2.4px;box-sizing:border-box">450%</div>
<div class="t" style="left:101px;top:410px;width:108px;height:17px;font-size:16px;text-align:right;color:#000;line-height:17px;padding-right:2.2px;box-sizing:border-box">$56,205</div>
<div class="t" style="left:211px;top:410px;width:76px;height:17px;font-size:16px;text-align:right;color:#000;line-height:17px;font-weight:bold;padding-right:2.2px;box-sizing:border-box">$270</div>
<div class="t" style="left:289px;top:410px;width:65px;height:17px;font-size:16px;text-align:right;color:#000;line-height:17px;padding-right:3.8px;box-sizing:border-box">5.76%</div>
<div class="t" style="left:355px;top:410px;width:49px;height:17px;font-size:16px;text-align:center;color:#000;line-height:17px;font-style:italic">n/a</div>
<div class="t" style="left:405px;top:410px;width:52px;height:17px;font-size:16px;text-align:right;color:#3a0a2a;line-height:17px;font-style:italic;padding-right:2.2px;box-sizing:border-box">$0</div>
<div class="t" style="left:458px;top:410px;width:48px;height:17px;font-size:16px;text-align:right;color:#000;line-height:17px;font-weight:bold;padding-right:2.2px;box-sizing:border-box">$270</div>
<div class="t" style="left:508px;top:410px;width:65px;height:17px;font-size:16px;text-align:right;color:#000;line-height:17px;padding-right:3.8px;box-sizing:border-box">5.76%</div>
<div class="t" style="left:574px;top:410px;width:49px;height:17px;font-size:16px;text-align:right;color:#000;line-height:17px;padding-right:2.2px;box-sizing:border-box">$270</div>
<div class="t" style="left:624px;top:410px;width:52px;height:17px;font-size:16px;text-align:right;color:#3a0a2a;line-height:17px;font-style:italic;padding-right:2.2px;box-sizing:border-box">$0</div>
<div class="t" style="left:677px;top:410px;width:76px;height:17px;font-size:16px;text-align:right;color:#000;line-height:17px;font-weight:bold;padding-right:2.2px;box-sizing:border-box">$270</div>
<div class="t" style="left:755px;top:410px;width:69px;height:17px;font-size:16px;text-align:right;color:#000;line-height:17px;padding-right:2.2px;box-sizing:border-box">$0</div>
<div class="t" style="left:825px;top:410px;width:75px;height:17px;font-size:16px;text-align:right;color:#000;line-height:17px;padding-right:2.2px;box-sizing:border-box">$0</div>
<div class="t" style="left:8px;top:428px;width:91px;height:17px;font-size:16px;text-align:right;color:#000;line-height:17px;padding-right:2.4px;box-sizing:border-box">500%</div>
<div class="t" style="left:101px;top:428px;width:108px;height:17px;font-size:16px;text-align:right;color:#000;line-height:17px;padding-right:2.2px;box-sizing:border-box">$62,450</div>
<div class="t" style="left:211px;top:428px;width:76px;height:17px;font-size:16px;text-align:right;color:#000;line-height:17px;font-weight:bold;padding-right:2.2px;box-sizing:border-box">$270</div>
<div class="t" style="left:289px;top:428px;width:65px;height:17px;font-size:16px;text-align:right;color:#000;line-height:17px;padding-right:3.8px;box-sizing:border-box">5.19%</div>
<div class="t" style="left:355px;top:428px;width:49px;height:17px;font-size:16px;text-align:center;color:#000;line-height:17px;font-style:italic">n/a</div>
<div class="t" style="left:405px;top:428px;width:52px;height:17px;font-size:16px;text-align:right;color:#3a0a2a;line-height:17px;font-style:italic;padding-right:2.2px;box-sizing:border-box">$0</div>
<div class="t" style="left:458px;top:428px;width:48px;height:17px;font-size:16px;text-align:right;color:#000;line-height:17px;font-weight:bold;padding-right:2.2px;box-sizing:border-box">$270</div>
<div class="t" style="left:508px;top:428px;width:65px;height:17px;font-size:16px;text-align:right;color:#000;line-height:17px;padding-right:3.8px;box-sizing:border-box">5.19%</div>
<div class="t" style="left:574px;top:428px;width:49px;height:17px;font-size:16px;text-align:right;color:#000;line-height:17px;padding-right:2.2px;box-sizing:border-box">$270</div>
<div class="t" style="left:624px;top:428px;width:52px;height:17px;font-size:16px;text-align:right;color:#3a0a2a;line-height:17px;font-style:italic;padding-right:2.2px;box-sizing:border-box">$0</div>
<div class="t" style="left:677px;top:428px;width:76px;height:17px;font-size:16px;text-align:right;color:#000;line-height:17px;font-weight:bold;padding-right:2.2px;box-sizing:border-box">$270</div>
<div class="t" style="left:755px;top:428px;width:69px;height:17px;font-size:16px;text-align:right;color:#000;line-height:17px;padding-right:2.2px;box-sizing:border-box">$0</div>
<div class="t" style="left:825px;top:428px;width:75px;height:17px;font-size:16px;text-align:right;color:#000;line-height:17px;padding-right:2.2px;box-sizing:border-box">$0</div>
<div class="t" style="left:8px;top:446px;width:91px;height:17px;font-size:16px;text-align:right;color:#000;line-height:17px;padding-right:2.4px;box-sizing:border-box">550%</div>
<div class="t" style="left:101px;top:446px;width:108px;height:17px;font-size:16px;text-align:right;color:#000;line-height:17px;padding-right:2.2px;box-sizing:border-box">$68,695</div>
<div class="t" style="left:211px;top:446px;width:76px;height:17px;font-size:16px;text-align:right;color:#000;line-height:17px;font-weight:bold;padding-right:2.2px;box-sizing:border-box">$270</div>
<div class="t" style="left:289px;top:446px;width:65px;height:17px;font-size:16px;text-align:right;color:#000;line-height:17px;padding-right:3.8px;box-sizing:border-box">4.72%</div>
<div class="t" style="left:355px;top:446px;width:49px;height:17px;font-size:16px;text-align:center;color:#000;line-height:17px;font-style:italic">n/a</div>
<div class="t" style="left:405px;top:446px;width:52px;height:17px;font-size:16px;text-align:right;color:#3a0a2a;line-height:17px;font-style:italic;padding-right:2.2px;box-sizing:border-box">$0</div>
<div class="t" style="left:458px;top:446px;width:48px;height:17px;font-size:16px;text-align:right;color:#000;line-height:17px;font-weight:bold;padding-right:2.2px;box-sizing:border-box">$270</div>
<div class="t" style="left:508px;top:446px;width:65px;height:17px;font-size:16px;text-align:right;color:#000;line-height:17px;padding-right:3.8px;box-sizing:border-box">4.72%</div>
<div class="t" style="left:574px;top:446px;width:49px;height:17px;font-size:16px;text-align:right;color:#000;line-height:17px;padding-right:2.2px;box-sizing:border-box">$270</div>
<div class="t" style="left:624px;top:446px;width:52px;height:17px;font-size:16px;text-align:right;color:#3a0a2a;line-height:17px;font-style:italic;padding-right:2.2px;box-sizing:border-box">$0</div>
<div class="t" style="left:677px;top:446px;width:76px;height:17px;font-size:16px;text-align:right;color:#000;line-height:17px;font-weight:bold;padding-right:2.2px;box-sizing:border-box">$270</div>
<div class="t" style="left:755px;top:446px;width:69px;height:17px;font-size:16px;text-align:right;color:#000;line-height:17px;padding-right:2.2px;box-sizing:border-box">$0</div>
<div class="t" style="left:825px;top:446px;width:75px;height:17px;font-size:16px;text-align:right;color:#000;line-height:17px;padding-right:2.2px;box-sizing:border-box">$0</div>
<div class="t" style="left:8px;top:464px;width:91px;height:17px;font-size:16px;text-align:right;color:#000;line-height:17px;padding-right:2.4px;box-sizing:border-box">600%</div>
<div class="t" style="left:101px;top:464px;width:108px;height:17px;font-size:16px;text-align:right;color:#000;line-height:17px;padding-right:2.2px;box-sizing:border-box">$74,940</div>
<div class="t" style="left:211px;top:464px;width:76px;height:17px;font-size:16px;text-align:right;color:#000;line-height:17px;font-weight:bold;padding-right:2.2px;box-sizing:border-box">$270</div>
<div class="t" style="left:289px;top:464px;width:65px;height:17px;font-size:16px;text-align:right;color:#000;line-height:17px;padding-right:3.8px;box-sizing:border-box">4.32%</div>
<div class="t" style="left:355px;top:464px;width:49px;height:17px;font-size:16px;text-align:center;color:#000;line-height:17px;font-style:italic">n/a</div>
<div class="t" style="left:405px;top:464px;width:52px;height:17px;font-size:16px;text-align:right;color:#3a0a2a;line-height:17px;font-style:italic;padding-right:2.2px;box-sizing:border-box">$0</div>
<div class="t" style="left:458px;top:464px;width:48px;height:17px;font-size:16px;text-align:right;color:#000;line-height:17px;font-weight:bold;padding-right:2.2px;box-sizing:border-box">$270</div>
<div class="t" style="left:508px;top:464px;width:65px;height:17px;font-size:16px;text-align:right;color:#000;line-height:17px;padding-right:3.8px;box-sizing:border-box">4.32%</div>
<div class="t" style="left:574px;top:464px;width:49px;height:17px;font-size:16px;text-align:right;color:#000;line-height:17px;padding-right:2.2px;box-sizing:border-box">$270</div>
<div class="t" style="left:624px;top:464px;width:52px;height:17px;font-size:16px;text-align:right;color:#3a0a2a;line-height:17px;font-style:italic;padding-right:2.2px;box-sizing:border-box">$0</div>
<div class="t" style="left:677px;top:464px;width:76px;height:17px;font-size:16px;text-align:right;color:#000;line-height:17px;font-weight:bold;padding-right:2.2px;box-sizing:border-box">$270</div>
<div class="t" style="left:755px;top:464px;width:69px;height:17px;font-size:16px;text-align:right;color:#000;line-height:17px;padding-right:2.2px;box-sizing:border-box">$0</div>
<div class="t" style="left:825px;top:464px;width:75px;height:17px;font-size:16px;text-align:right;color:#000;line-height:17px;padding-right:2.2px;box-sizing:border-box">$0</div>
<div class="t" style="left:8px;top:482px;width:91px;height:17px;font-size:16px;text-align:right;color:#000;line-height:17px;padding-right:2.4px;box-sizing:border-box">650%</div>
<div class="t" style="left:101px;top:482px;width:108px;height:17px;font-size:16px;text-align:right;color:#000;line-height:17px;padding-right:2.2px;box-sizing:border-box">$81,185</div>
<div class="t" style="left:211px;top:482px;width:76px;height:17px;font-size:16px;text-align:right;color:#000;line-height:17px;font-weight:bold;padding-right:2.2px;box-sizing:border-box">$270</div>
<div class="t" style="left:289px;top:482px;width:65px;height:17px;font-size:16px;text-align:right;color:#000;line-height:17px;padding-right:3.8px;box-sizing:border-box">3.99%</div>
<div class="t" style="left:355px;top:482px;width:49px;height:17px;font-size:16px;text-align:center;color:#000;line-height:17px;font-style:italic">n/a</div>
<div class="t" style="left:405px;top:482px;width:52px;height:17px;font-size:16px;text-align:right;color:#3a0a2a;line-height:17px;font-style:italic;padding-right:2.2px;box-sizing:border-box">$0</div>
<div class="t" style="left:458px;top:482px;width:48px;height:17px;font-size:16px;text-align:right;color:#000;line-height:17px;font-weight:bold;padding-right:2.2px;box-sizing:border-box">$270</div>
<div class="t" style="left:508px;top:482px;width:65px;height:17px;font-size:16px;text-align:right;color:#000;line-height:17px;padding-right:3.8px;box-sizing:border-box">3.99%</div>
<div class="t" style="left:574px;top:482px;width:49px;height:17px;font-size:16px;text-align:right;color:#000;line-height:17px;padding-right:2.2px;box-sizing:border-box">$270</div>
<div class="t" style="left:624px;top:482px;width:52px;height:17px;font-size:16px;text-align:right;color:#3a0a2a;line-height:17px;font-style:italic;padding-right:2.2px;box-sizing:border-box">$0</div>
<div class="t" style="left:677px;top:482px;width:76px;height:17px;font-size:16px;text-align:right;color:#000;line-height:17px;font-weight:bold;padding-right:2.2px;box-sizing:border-box">$270</div>
<div class="t" style="left:755px;top:482px;width:69px;height:17px;font-size:16px;text-align:right;color:#000;line-height:17px;padding-right:2.2px;box-sizing:border-box">$0</div>
<div class="t" style="left:825px;top:482px;width:75px;height:17px;font-size:16px;text-align:right;color:#000;line-height:17px;padding-right:2.2px;box-sizing:border-box">$0</div>
<div class="t" style="left:8px;top:500px;width:91px;height:17px;font-size:16px;text-align:right;color:#000;line-height:17px;padding-right:2.4px;box-sizing:border-box">700%</div>
<div class="t" style="left:101px;top:500px;width:108px;height:17px;font-size:16px;text-align:right;color:#000;line-height:17px;padding-right:2.2px;box-sizing:border-box">$87,430</div>
<div class="t" style="left:211px;top:500px;width:76px;height:17px;font-size:16px;text-align:right;color:#000;line-height:17px;font-weight:bold;padding-right:2.2px;box-sizing:border-box">$270</div>
<div class="t" style="left:289px;top:500px;width:65px;height:17px;font-size:16px;text-align:right;color:#000;line-height:17px;padding-right:3.8px;box-sizing:border-box">3.71%</div>
<div class="t" style="left:355px;top:500px;width:49px;height:17px;font-size:16px;text-align:center;color:#000;line-height:17px;font-style:italic">n/a</div>
<div class="t" style="left:405px;top:500px;width:52px;height:17px;font-size:16px;text-align:right;color:#3a0a2a;line-height:17px;font-style:italic;padding-right:2.2px;box-sizing:border-box">$0</div>
<div class="t" style="left:458px;top:500px;width:48px;height:17px;font-size:16px;text-align:right;color:#000;line-height:17px;font-weight:bold;padding-right:2.2px;box-sizing:border-box">$270</div>
<div class="t" style="left:508px;top:500px;width:65px;height:17px;font-size:16px;text-align:right;color:#000;line-height:17px;padding-right:3.8px;box-sizing:border-box">3.71%</div>
<div class="t" style="left:574px;top:500px;width:49px;height:17px;font-size:16px;text-align:right;color:#000;line-height:17px;padding-right:2.2px;box-sizing:border-box">$270</div>
<div class="t" style="left:624px;top:500px;width:52px;height:17px;font-size:16px;text-align:right;color:#3a0a2a;line-height:17px;font-style:italic;padding-right:2.2px;box-sizing:border-box">$0</div>
<div class="t" style="left:677px;top:500px;width:76px;height:17px;font-size:16px;text-align:right;color:#000;line-height:17px;font-weight:bold;padding-right:2.2px;box-sizing:border-box">$270</div>
<div class="t" style="left:755px;top:500px;width:69px;height:17px;font-size:16px;text-align:right;color:#000;line-height:17px;padding-right:2.2px;box-sizing:border-box">$0</div>
<div class="t" style="left:825px;top:500px;width:75px;height:17px;font-size:16px;text-align:right;color:#000;line-height:17px;padding-right:2.2px;box-sizing:border-box">$0</div>
<div class="t" style="left:8px;top:518px;width:91px;height:17px;font-size:16px;text-align:right;color:#000;line-height:17px;padding-right:2.4px;box-sizing:border-box">750%</div>
<div class="t" style="left:101px;top:518px;width:108px;height:17px;font-size:16px;text-align:right;color:#000;line-height:17px;padding-right:2.2px;box-sizing:border-box">$93,675</div>
<div class="t" style="left:211px;top:518px;width:76px;height:17px;font-size:16px;text-align:right;color:#000;line-height:17px;font-weight:bold;padding-right:2.2px;box-sizing:border-box">$270</div>
<div class="t" style="left:289px;top:518px;width:65px;height:17px;font-size:16px;text-align:right;color:#000;line-height:17px;padding-right:3.8px;box-sizing:border-box">3.46%</div>
<div class="t" style="left:355px;top:518px;width:49px;height:17px;font-size:16px;text-align:center;color:#000;line-height:17px;font-style:italic">n/a</div>
<div class="t" style="left:405px;top:518px;width:52px;height:17px;font-size:16px;text-align:right;color:#3a0a2a;line-height:17px;font-style:italic;padding-right:2.2px;box-sizing:border-box">$0</div>
<div class="t" style="left:458px;top:518px;width:48px;height:17px;font-size:16px;text-align:right;color:#000;line-height:17px;font-weight:bold;padding-right:2.2px;box-sizing:border-box">$270</div>
<div class="t" style="left:508px;top:518px;width:65px;height:17px;font-size:16px;text-align:right;color:#000;line-height:17px;padding-right:3.8px;box-sizing:border-box">3.46%</div>
<div class="t" style="left:574px;top:518px;width:49px;height:17px;font-size:16px;text-align:right;color:#000;line-height:17px;padding-right:2.2px;box-sizing:border-box">$270</div>
<div class="t" style="left:624px;top:518px;width:52px;height:17px;font-size:16px;text-align:right;color:#3a0a2a;line-height:17px;font-style:italic;padding-right:2.2px;box-sizing:border-box">$0</div>
<div class="t" style="left:677px;top:518px;width:76px;height:17px;font-size:16px;text-align:right;color:#000;line-height:17px;font-weight:bold;padding-right:2.2px;box-sizing:border-box">$270</div>
<div class="t" style="left:755px;top:518px;width:69px;height:17px;font-size:16px;text-align:right;color:#000;line-height:17px;padding-right:2.2px;box-sizing:border-box">$0</div>
<div class="t" style="left:825px;top:518px;width:75px;height:17px;font-size:16px;text-align:right;color:#000;line-height:17px;padding-right:2.2px;box-sizing:border-box">$0</div>
<div class="t" style="left:8px;top:536px;width:91px;height:17px;font-size:16px;text-align:right;color:#000;line-height:17px;padding-right:2.4px;box-sizing:border-box">800%</div>
<div class="t" style="left:101px;top:536px;width:108px;height:17px;font-size:16px;text-align:right;color:#000;line-height:17px;padding-right:2.2px;box-sizing:border-box">$99,920</div>
<div class="t" style="left:211px;top:536px;width:76px;height:17px;font-size:16px;text-align:right;color:#000;line-height:17px;font-weight:bold;padding-right:2.2px;box-sizing:border-box">$270</div>
<div class="t" style="left:289px;top:536px;width:65px;height:17px;font-size:16px;text-align:right;color:#000;line-height:17px;padding-right:3.8px;box-sizing:border-box">3.24%</div>
<div class="t" style="left:355px;top:536px;width:49px;height:17px;font-size:16px;text-align:center;color:#000;line-height:17px;font-style:italic">n/a</div>
<div class="t" style="left:405px;top:536px;width:52px;height:17px;font-size:16px;text-align:right;color:#3a0a2a;line-height:17px;font-style:italic;padding-right:2.2px;box-sizing:border-box">$0</div>
<div class="t" style="left:458px;top:536px;width:48px;height:17px;font-size:16px;text-align:right;color:#000;line-height:17px;font-weight:bold;padding-right:2.2px;box-sizing:border-box">$270</div>
<div class="t" style="left:508px;top:536px;width:65px;height:17px;font-size:16px;text-align:right;color:#000;line-height:17px;padding-right:3.8px;box-sizing:border-box">3.24%</div>
<div class="t" style="left:574px;top:536px;width:49px;height:17px;font-size:16px;text-align:right;color:#000;line-height:17px;padding-right:2.2px;box-sizing:border-box">$270</div>
<div class="t" style="left:624px;top:536px;width:52px;height:17px;font-size:16px;text-align:right;color:#3a0a2a;line-height:17px;font-style:italic;padding-right:2.2px;box-sizing:border-box">$0</div>
<div class="t" style="left:677px;top:536px;width:76px;height:17px;font-size:16px;text-align:right;color:#000;line-height:17px;font-weight:bold;padding-right:2.2px;box-sizing:border-box">$270</div>
<div class="t" style="left:755px;top:536px;width:69px;height:17px;font-size:16px;text-align:right;color:#000;line-height:17px;padding-right:2.2px;box-sizing:border-box">$0</div>
<div class="t" style="left:825px;top:536px;width:75px;height:17px;font-size:16px;text-align:right;color:#000;line-height:17px;padding-right:2.2px;box-sizing:border-box">$0</div>
<div class="t" style="left:8px;top:554px;width:91px;height:17px;font-size:16px;text-align:right;color:#000;line-height:17px;padding-right:2.4px;box-sizing:border-box">850%</div>
<div class="t" style="left:101px;top:554px;width:108px;height:17px;font-size:16px;text-align:right;color:#000;line-height:17px;padding-right:2.2px;box-sizing:border-box">$106,165</div>
<div class="t" style="left:211px;top:554px;width:76px;height:17px;font-size:16px;text-align:right;color:#000;line-height:17px;font-weight:bold;padding-right:2.2px;box-sizing:border-box">$270</div>
<div class="t" style="left:289px;top:554px;width:65px;height:17px;font-size:16px;text-align:right;color:#000;line-height:17px;padding-right:3.8px;box-sizing:border-box">3.05%</div>
<div class="t" style="left:355px;top:554px;width:49px;height:17px;font-size:16px;text-align:center;color:#000;line-height:17px;font-style:italic">n/a</div>
<div class="t" style="left:405px;top:554px;width:52px;height:17px;font-size:16px;text-align:right;color:#3a0a2a;line-height:17px;font-style:italic;padding-right:2.2px;box-sizing:border-box">$0</div>
<div class="t" style="left:458px;top:554px;width:48px;height:17px;font-size:16px;text-align:right;color:#000;line-height:17px;font-weight:bold;padding-right:2.2px;box-sizing:border-box">$270</div>
<div class="t" style="left:508px;top:554px;width:65px;height:17px;font-size:16px;text-align:right;color:#000;line-height:17px;padding-right:3.8px;box-sizing:border-box">3.05%</div>
<div class="t" style="left:574px;top:554px;width:49px;height:17px;font-size:16px;text-align:right;color:#000;line-height:17px;padding-right:2.2px;box-sizing:border-box">$270</div>
<div class="t" style="left:624px;top:554px;width:52px;height:17px;font-size:16px;text-align:right;color:#3a0a2a;line-height:17px;font-style:italic;padding-right:2.2px;box-sizing:border-box">$0</div>
<div class="t" style="left:677px;top:554px;width:76px;height:17px;font-size:16px;text-align:right;color:#000;line-height:17px;font-weight:bold;padding-right:2.2px;box-sizing:border-box">$270</div>
<div class="t" style="left:755px;top:554px;width:69px;height:17px;font-size:16px;text-align:right;color:#000;line-height:17px;padding-right:2.2px;box-sizing:border-box">$0</div>
<div class="t" style="left:825px;top:554px;width:75px;height:17px;font-size:16px;text-align:right;color:#000;line-height:17px;padding-right:2.2px;box-sizing:border-box">$0</div>
<div class="t" style="left:8px;top:572px;width:91px;height:17px;font-size:16px;text-align:right;color:#000;line-height:17px;padding-right:2.4px;box-sizing:border-box">900%</div>
<div class="t" style="left:101px;top:572px;width:108px;height:17px;font-size:16px;text-align:right;color:#000;line-height:17px;padding-right:2.2px;box-sizing:border-box">$112,410</div>
<div class="t" style="left:211px;top:572px;width:76px;height:17px;font-size:16px;text-align:right;color:#000;line-height:17px;font-weight:bold;padding-right:2.2px;box-sizing:border-box">$270</div>
<div class="t" style="left:289px;top:572px;width:65px;height:17px;font-size:16px;text-align:right;color:#000;line-height:17px;padding-right:3.8px;box-sizing:border-box">2.88%</div>
<div class="t" style="left:355px;top:572px;width:49px;height:17px;font-size:16px;text-align:center;color:#000;line-height:17px;font-style:italic">n/a</div>
<div class="t" style="left:405px;top:572px;width:52px;height:17px;font-size:16px;text-align:right;color:#3a0a2a;line-height:17px;font-style:italic;padding-right:2.2px;box-sizing:border-box">$0</div>
<div class="t" style="left:458px;top:572px;width:48px;height:17px;font-size:16px;text-align:right;color:#000;line-height:17px;font-weight:bold;padding-right:2.2px;box-sizing:border-box">$270</div>
<div class="t" style="left:508px;top:572px;width:65px;height:17px;font-size:16px;text-align:right;color:#000;line-height:17px;padding-right:3.8px;box-sizing:border-box">2.88%</div>
<div class="t" style="left:574px;top:572px;width:49px;height:17px;font-size:16px;text-align:right;color:#000;line-height:17px;padding-right:2.2px;box-sizing:border-box">$270</div>
<div class="t" style="left:624px;top:572px;width:52px;height:17px;font-size:16px;text-align:right;color:#3a0a2a;line-height:17px;font-style:italic;padding-right:2.2px;box-sizing:border-box">$0</div>
<div class="t" style="left:677px;top:572px;width:76px;height:17px;font-size:16px;text-align:right;color:#000;line-height:17px;font-weight:bold;padding-right:2.2px;box-sizing:border-box">$270</div>
<div class="t" style="left:755px;top:572px;width:69px;height:17px;font-size:16px;text-align:right;color:#000;line-height:17px;padding-right:2.2px;box-sizing:border-box">$0</div>
<div class="t" style="left:825px;top:572px;width:75px;height:17px;font-size:16px;text-align:right;color:#000;line-height:17px;padding-right:2.2px;box-sizing:border-box">$0</div>
<div class="t" style="left:8px;top:590px;width:91px;height:17px;font-size:16px;text-align:right;color:#000;line-height:17px;padding-right:2.4px;box-sizing:border-box">950%</div>
<div class="t" style="left:101px;top:590px;width:108px;height:17px;font-size:16px;text-align:right;color:#000;line-height:17px;padding-right:2.2px;box-sizing:border-box">$118,655</div>
<div class="t" style="left:211px;top:590px;width:76px;height:17px;font-size:16px;text-align:right;color:#000;line-height:17px;font-weight:bold;padding-right:2.2px;box-sizing:border-box">$270</div>
<div class="t" style="left:289px;top:590px;width:65px;height:17px;font-size:16px;text-align:right;color:#000;line-height:17px;padding-right:3.8px;box-sizing:border-box">2.73%</div>
<div class="t" style="left:355px;top:590px;width:49px;height:17px;font-size:16px;text-align:center;color:#000;line-height:17px;font-style:italic">n/a</div>
<div class="t" style="left:405px;top:590px;width:52px;height:17px;font-size:16px;text-align:right;color:#3a0a2a;line-height:17px;font-style:italic;padding-right:2.2px;box-sizing:border-box">$0</div>
<div class="t" style="left:458px;top:590px;width:48px;height:17px;font-size:16px;text-align:right;color:#000;line-height:17px;font-weight:bold;padding-right:2.2px;box-sizing:border-box">$270</div>
<div class="t" style="left:508px;top:590px;width:65px;height:17px;font-size:16px;text-align:right;color:#000;line-height:17px;padding-right:3.8px;box-sizing:border-box">2.73%</div>
<div class="t" style="left:574px;top:590px;width:49px;height:17px;font-size:16px;text-align:right;color:#000;line-height:17px;padding-right:2.2px;box-sizing:border-box">$270</div>
<div class="t" style="left:624px;top:590px;width:52px;height:17px;font-size:16px;text-align:right;color:#3a0a2a;line-height:17px;font-style:italic;padding-right:2.2px;box-sizing:border-box">$0</div>
<div class="t" style="left:677px;top:590px;width:76px;height:17px;font-size:16px;text-align:right;color:#000;line-height:17px;font-weight:bold;padding-right:2.2px;box-sizing:border-box">$270</div>
<div class="t" style="left:755px;top:590px;width:69px;height:17px;font-size:16px;text-align:right;color:#000;line-height:17px;padding-right:2.2px;box-sizing:border-box">$0</div>
<div class="t" style="left:825px;top:590px;width:75px;height:17px;font-size:16px;text-align:right;color:#000;line-height:17px;padding-right:2.2px;box-sizing:border-box">$0</div>
<div class="t" style="left:8px;top:608px;width:91px;height:17px;font-size:16px;text-align:right;color:#000;line-height:17px;padding-right:2.4px;box-sizing:border-box">1000%</div>
<div class="t" style="left:101px;top:608px;width:108px;height:17px;font-size:16px;text-align:right;color:#000;line-height:17px;padding-right:2.2px;box-sizing:border-box">$124,900</div>
<div class="t" style="left:211px;top:608px;width:76px;height:17px;font-size:16px;text-align:right;color:#000;line-height:17px;font-weight:bold;padding-right:2.2px;box-sizing:border-box">$270</div>
<div class="t" style="left:289px;top:608px;width:65px;height:17px;font-size:16px;text-align:right;color:#000;line-height:17px;padding-right:3.8px;box-sizing:border-box">2.59%</div>
<div class="t" style="left:355px;top:608px;width:49px;height:17px;font-size:16px;text-align:center;color:#000;line-height:17px;font-style:italic">n/a</div>
<div class="t" style="left:405px;top:608px;width:52px;height:17px;font-size:16px;text-align:right;color:#3a0a2a;line-height:17px;font-style:italic;padding-right:2.2px;box-sizing:border-box">$0</div>
<div class="t" style="left:458px;top:608px;width:48px;height:17px;font-size:16px;text-align:right;color:#000;line-height:17px;font-weight:bold;padding-right:2.2px;box-sizing:border-box">$270</div>
<div class="t" style="left:508px;top:608px;width:65px;height:17px;font-size:16px;text-align:right;color:#000;line-height:17px;padding-right:3.8px;box-sizing:border-box">2.59%</div>
<div class="t" style="left:574px;top:608px;width:49px;height:17px;font-size:16px;text-align:right;color:#000;line-height:17px;padding-right:2.2px;box-sizing:border-box">$270</div>
<div class="t" style="left:624px;top:608px;width:52px;height:17px;font-size:16px;text-align:right;color:#3a0a2a;line-height:17px;font-style:italic;padding-right:2.2px;box-sizing:border-box">$0</div>
<div class="t" style="left:677px;top:608px;width:76px;height:17px;font-size:16px;text-align:right;color:#000;line-height:17px;font-weight:bold;padding-right:2.2px;box-sizing:border-box">$270</div>
<div class="t" style="left:755px;top:608px;width:69px;height:17px;font-size:16px;text-align:right;color:#000;line-height:17px;padding-right:2.2px;box-sizing:border-box">$0</div>
<div class="t" style="left:825px;top:608px;width:75px;height:17px;font-size:16px;text-align:right;color:#000;line-height:17px;padding-right:2.2px;box-sizing:border-box">$0</div>
</body></html>
